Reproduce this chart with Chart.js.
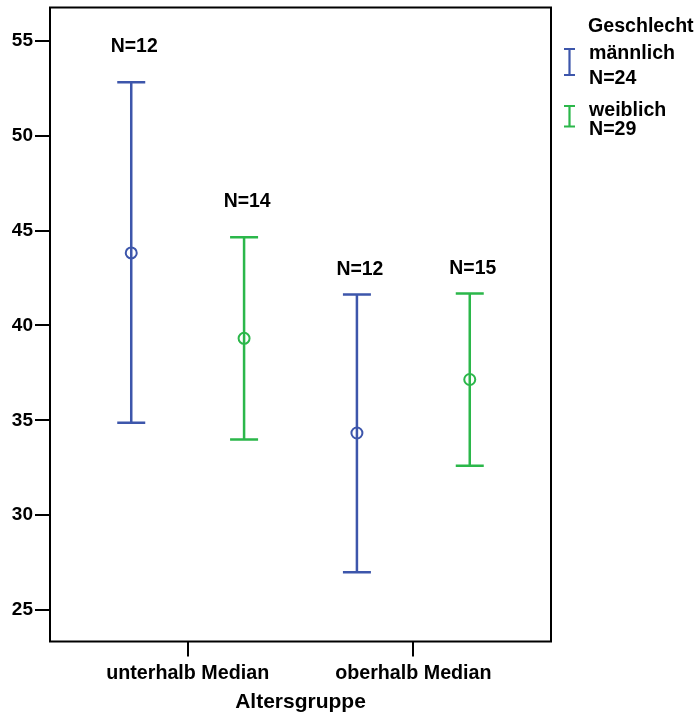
<!DOCTYPE html>
<html>
<head>
<meta charset="utf-8">
<script src="https://cdn.jsdelivr.net/npm/chart.js@4/dist/chart.umd.min.js"></script>
<style>
  html, body { margin: 0; padding: 0; background: #fff; }
  #wrap { width: 699px; height: 715px; }
</style>
</head>
<body>
<div id="wrap"><canvas id="c" width="699" height="715"></canvas></div>
<script>
// ---- data ----
const categories = ['unterhalb Median', 'oberhalb Median'];
const groups = ['männlich', 'weiblich'];
const groupN = [24, 29];
const maleMean = [43.82, 34.33];
const maleLower = [34.87, 26.99];
const maleUpper = [52.81, 41.63];
const maleN = [12, 12];
const femaleMean = [39.32, 37.15];
const femaleLower = [33.99, 32.61];
const femaleUpper = [44.65, 41.68];
const femaleN = [14, 15];
const yTicks = [25, 30, 35, 40, 45, 50, 55];
const legendTitle = 'Geschlecht';
const xTitle = 'Altersgruppe';

// ---- styles ----
const BLUE = '#3d56ab';
const GREEN = '#2bb74a';
const FONT = '"Liberation Sans", Arial, sans-serif';
const OFFSET = 0.25;

const series = [
  { label: groups[0], mean: maleMean, lower: maleLower, upper: maleUpper, n: maleN, color: BLUE, off: -OFFSET, nGap: [37, 26.5] },
  { label: groups[1], mean: femaleMean, lower: femaleLower, upper: femaleUpper, n: femaleN, color: GREEN, off: OFFSET, nGap: [37, 26.5] }
];

function txt(ctx, s, x, cy, size, align) {
  ctx.font = 'bold ' + size + 'px ' + FONT;
  ctx.textAlign = align || 'left';
  ctx.textBaseline = 'alphabetic';
  ctx.fillStyle = '#000';
  ctx.fillText(s, x, cy + size * 0.358);
}

const errorBars = {
  id: 'errorBars',
  beforeDatasetsDraw(chart) {
    const { ctx, scales: { x, y } } = chart;
    ctx.save();
    series.forEach(s => {
      ctx.strokeStyle = s.color;
      ctx.lineWidth = 2.5;
      ctx.lineCap = 'butt';
      categories.forEach((c, i) => {
        const px = x.getPixelForValue(i + s.off);
        const yt = y.getPixelForValue(s.upper[i]);
        const yb = y.getPixelForValue(s.lower[i]);
        ctx.beginPath();
        ctx.moveTo(px, yt); ctx.lineTo(px, yb);
        ctx.moveTo(px - 14, yt); ctx.lineTo(px + 14, yt);
        ctx.moveTo(px - 14, yb); ctx.lineTo(px + 14, yb);
        ctx.stroke();
      });
    });
    ctx.restore();
  },
  afterDraw(chart) {
    const { ctx, chartArea: a, scales: { x, y } } = chart;
    ctx.save();
    // frame
    ctx.strokeStyle = '#000';
    ctx.lineWidth = 2;
    ctx.strokeRect(a.left, a.top, a.right - a.left, a.bottom - a.top);
    // N labels
    series.forEach(s => {
      categories.forEach((c, i) => {
        const px = x.getPixelForValue(i + s.off);
        const yt = y.getPixelForValue(s.upper[i]);
        txt(ctx, 'N=' + s.n[i], px + 3, yt - s.nGap[i], 19.4, 'center');
      });
    });
    // legend
    txt(ctx, legendTitle, 588, 25, 19.6, 'left');
    const rows = [[49, 75], [106, 126.5]];
    series.forEach((s, k) => {
      const [t, b] = rows[k];
      ctx.strokeStyle = s.color;
      ctx.lineWidth = 2.2;
      ctx.beginPath();
      ctx.moveTo(569.5, t); ctx.lineTo(569.5, b);
      ctx.moveTo(564, t); ctx.lineTo(575, t);
      ctx.moveTo(564, b); ctx.lineTo(575, b);
      ctx.stroke();
      txt(ctx, s.label, 589, t + 2.5, 19.6, 'left');
      txt(ctx, 'N=' + groupN[k], 589, b + 1.5, 19.6, 'left');
    });
    ctx.restore();
  }
};

new Chart(document.getElementById('c'), {
  type: 'scatter',
  data: {
    datasets: series.map(s => ({
      label: s.label,
      data: categories.map((c, i) => ({ x: i + s.off, y: s.mean[i] })),
      borderColor: s.color,
      backgroundColor: 'rgba(0,0,0,0)',
      pointRadius: 5.5,
      pointBorderWidth: 2,
      pointHoverRadius: 5.5
    }))
  },
  options: {
    responsive: false,
    animation: false,
    events: [],
    layout: { padding: { top: 6, right: 148, left: 0, bottom: 0 } },
    plugins: { legend: { display: false }, tooltip: { enabled: false } },
    scales: {
      x: {
        type: 'linear',
        min: -0.61, max: 1.61,
        afterFit(scale) { scale.height = 73.5; scale.paddingLeft = 0; scale.paddingRight = 0; },
        afterBuildTicks(scale) { scale.ticks = categories.map((c, i) => ({ value: i })); },
        border: { display: false },
        grid: { drawOnChartArea: false, drawTicks: true, tickLength: 15, color: '#000', lineWidth: 2 },
        ticks: {
          autoSkip: false, maxRotation: 0, padding: 5,
          color: '#000', font: { family: FONT, size: 19.7, weight: 'bold' },
          callback: v => categories[v]
        },
        title: {
          display: true, text: xTitle, color: '#000',
          font: { family: FONT, size: 21, weight: 'bold' },
          padding: { top: 0, bottom: 0 }
        }
      },
      y: {
        min: 23.345, max: 56.75,
        afterFit(scale) { scale.width = 50; scale.paddingTop = 0; scale.paddingBottom = 0; },
        afterBuildTicks(scale) { scale.ticks = yTicks.map(v => ({ value: v })); },
        border: { display: false },
        grid: { drawOnChartArea: false, drawTicks: true, tickLength: 15, color: '#000', lineWidth: 2 },
        ticks: {
          padding: 2, color: '#000',
          font: { family: FONT, size: 19, weight: 'bold' },
          callback: v => String(v)
        }
      }
    }
  },
  plugins: [errorBars]
});
</script>
</body>
</html>
